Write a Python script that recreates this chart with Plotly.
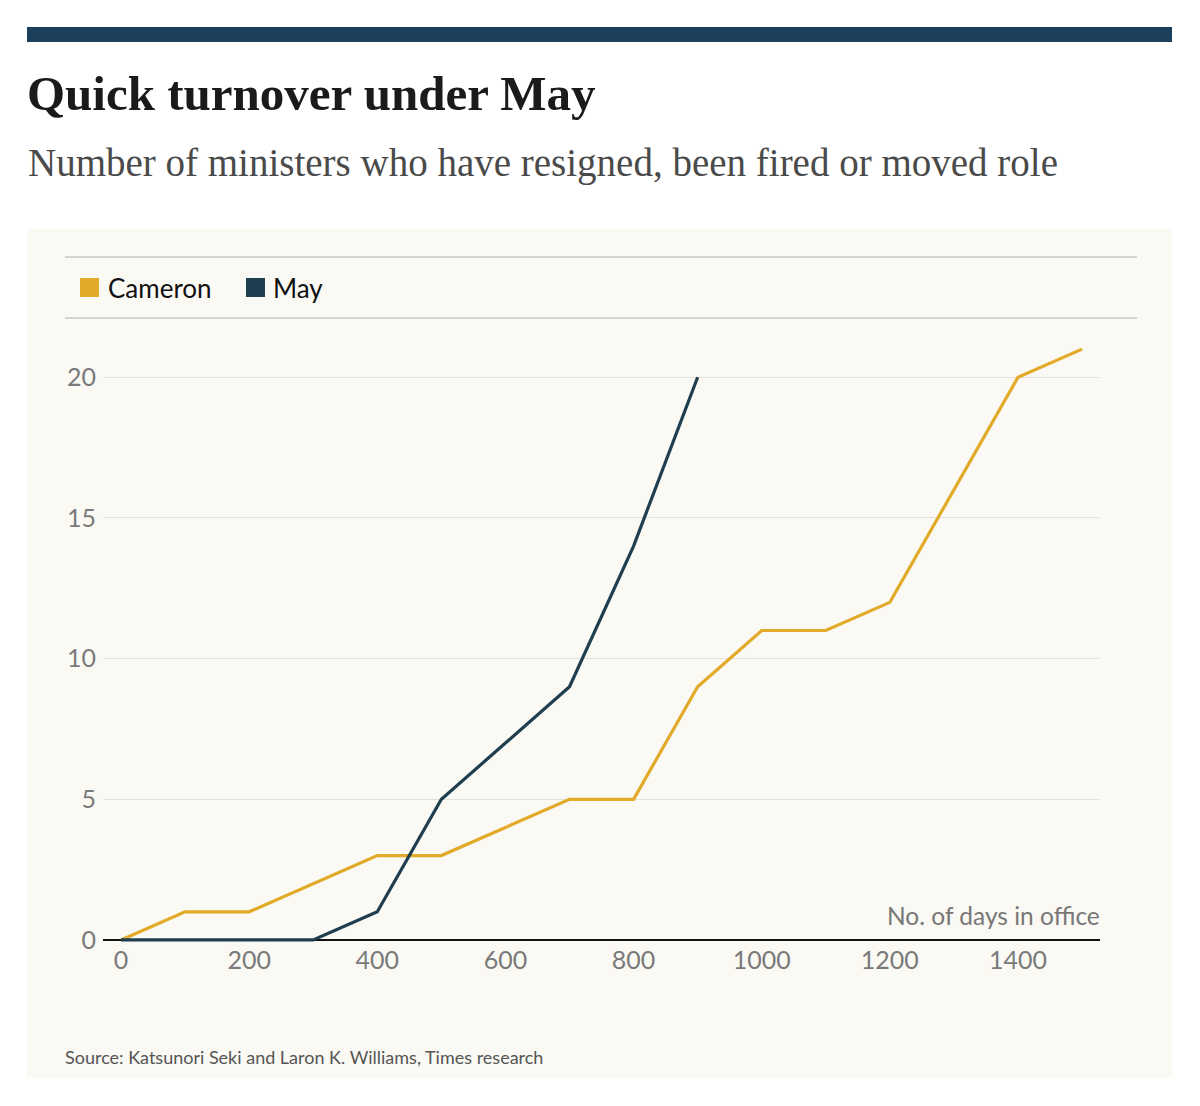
import plotly.graph_objects as go

# ---- data ----
days = [0, 100, 200, 300, 400, 500, 600, 700, 800, 900, 1000, 1100, 1200, 1300, 1400, 1500]
cameron = [0, 1, 1, 2, 3, 3, 4, 5, 5, 9, 11, 11, 12, 16, 20, 21]
may_days = [0, 100, 200, 300, 400, 500, 600, 700, 800, 900]
may = [0, 0, 0, 0, 1, 5, 7, 9, 14, 20]
x_ticks = [0, 200, 400, 600, 800, 1000, 1200, 1400]
y_ticks = [0, 5, 10, 15, 20]
series_names = ["Cameron", "May"]

W, H = 1200, 1106
ML, MR, MT, MB = 103, 100, 321, 159
PW, PH = W - ML - MR, H - MT - MB

def px(x):
    return (x - ML) / PW

def py(y):
    return (H - MB - y) / PH

GOLD = "#e1aa28"
NAVY = "#1f3e50"
SANS = "Lato, 'Open Sans', sans-serif"
SERIF = "'Liberation Serif', 'DejaVu Serif', serif"

fig = go.Figure()
fig.add_trace(go.Scatter(x=days, y=cameron, mode="lines", name=series_names[0],
                         line=dict(color=GOLD, width=3.2), showlegend=False, hoverinfo="skip"))
fig.add_trace(go.Scatter(x=may_days, y=may, mode="lines", name=series_names[1],
                         line=dict(color=NAVY, width=3.2), showlegend=False, hoverinfo="skip"))

shapes = [
    # top bar
    dict(type="rect", xref="paper", yref="paper", x0=px(27), x1=px(1172), y0=py(42), y1=py(27),
         fillcolor="#1c3f5b", line=dict(width=0), layer="below"),
    # panel
    dict(type="rect", xref="paper", yref="paper", x0=px(27), x1=px(1172), y0=py(1078), y1=py(229),
         fillcolor="#faf9f4", line=dict(width=0), layer="below"),
    # legend rules
    dict(type="line", xref="paper", yref="paper", x0=px(65), x1=px(1137), y0=py(257), y1=py(257),
         line=dict(color="#c8c8c4", width=1.5)),
    dict(type="line", xref="paper", yref="paper", x0=px(65), x1=px(1137), y0=py(318), y1=py(318),
         line=dict(color="#c8c8c4", width=1.5)),
    # legend swatches
    dict(type="rect", xref="paper", yref="paper", x0=px(80), x1=px(99), y0=py(297), y1=py(278),
         fillcolor=GOLD, line=dict(width=0)),
    dict(type="rect", xref="paper", yref="paper", x0=px(246), x1=px(265), y0=py(297), y1=py(278),
         fillcolor=NAVY, line=dict(width=0)),
]

annotations = [
    dict(text="<b>Quick turnover under May</b>", xref="paper", yref="paper", x=px(25), y=py(94),
         xanchor="left", yanchor="middle", showarrow=False,
         font=dict(family=SERIF, size=49, color="#1a1a1a")),
    dict(text="Number of ministers who have resigned, been fired or moved role", xref="paper", yref="paper",
         x=px(26), y=py(163), xanchor="left", yanchor="middle", showarrow=False,
         font=dict(family=SERIF, size=39, color="#4a4a4a")),
    dict(text=series_names[0], xref="paper", yref="paper", x=px(106), y=py(288),
         xanchor="left", yanchor="middle", showarrow=False,
         font=dict(family=SANS, size=26, color="#111111")),
    dict(text=series_names[1], xref="paper", yref="paper", x=px(271), y=py(288),
         xanchor="left", yanchor="middle", showarrow=False,
         font=dict(family=SANS, size=26, color="#111111")),
    dict(text="No. of days in office", xref="paper", yref="paper", x=px(1102), y=py(915),
         xanchor="right", yanchor="middle", showarrow=False,
         font=dict(family=SANS, size=24.5, color="#777777")),
    dict(text="Source: Katsunori Seki and Laron K. Williams, Times research", xref="paper", yref="paper",
         x=px(63), y=py(1057), xanchor="left", yanchor="middle", showarrow=False,
         font=dict(family=SANS, size=18, color="#555555")),
]

fig.update_layout(
    width=W, height=H,
    margin=dict(l=ML, r=MR, t=MT, b=MB, autoexpand=False),
    paper_bgcolor="white", plot_bgcolor="rgba(0,0,0,0)",
    shapes=shapes, annotations=annotations, showlegend=False,
    xaxis=dict(range=[-28.1, 1528.0], tickvals=x_ticks, showgrid=False, zeroline=False,
               showline=False, ticks="", tickfont=dict(family=SANS, size=25, color="#7a7a7a"),
               ticklabelstandoff=-4),
    yaxis=dict(range=[-0.25, 22], tickvals=y_ticks, showgrid=True, gridcolor="#e2e1dc", gridwidth=1,
               zeroline=True, zerolinecolor="#111111", zerolinewidth=2, showline=False, ticks="",
               tickfont=dict(family=SANS, size=25, color="#7a7a7a"), ticklabelstandoff=6),
)

fig.write_html("out.html")
